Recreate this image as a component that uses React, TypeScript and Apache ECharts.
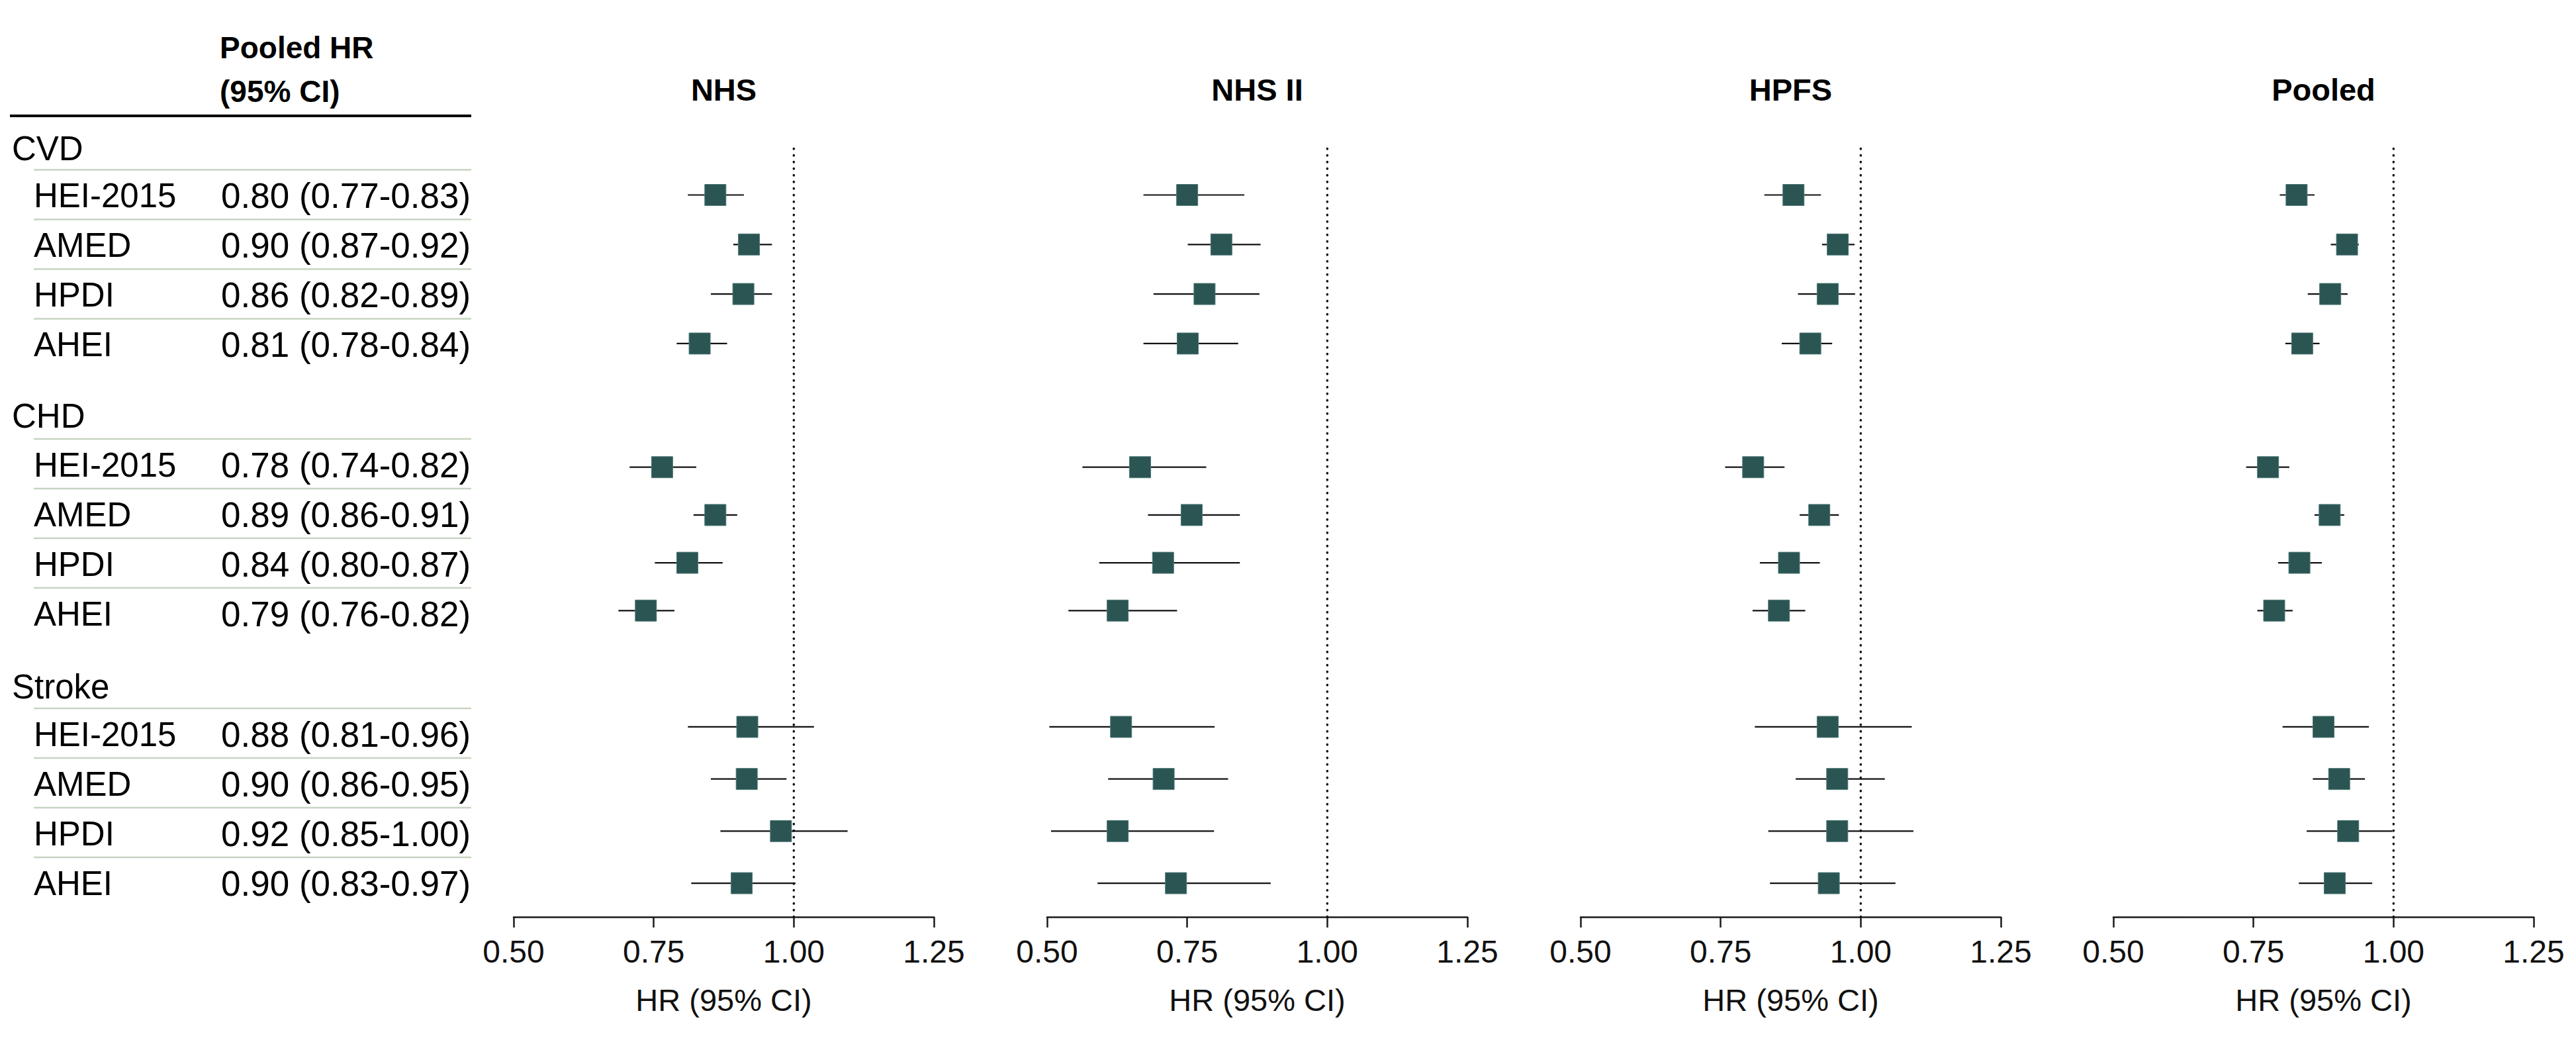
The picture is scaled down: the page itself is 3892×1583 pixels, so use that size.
import React, { useEffect, useRef } from 'react';
import * as echarts from 'echarts';

// ---------- data ----------
const cohorts = ['NHS', 'NHS II', 'HPFS', 'Pooled'];
const outcomes = ['CVD', 'CHD', 'Stroke'];
const indices = ['HEI-2015', 'AMED', 'HPDI', 'AHEI'];
const xTicks = [0.5, 0.75, 1.0, 1.25];
const nullHR = 1.0;

// Order: CVD (HEI-2015, AMED, HPDI, AHEI), CHD (...), Stroke (...)
const nhsHR = [0.86, 0.92, 0.91, 0.832, 0.765, 0.86, 0.81, 0.736, 0.917, 0.916, 0.977, 0.907];
const nhsLow = [0.811, 0.892, 0.852, 0.791, 0.707, 0.821, 0.752, 0.687, 0.811, 0.852, 0.869, 0.817];
const nhsHigh = [0.911, 0.961, 0.961, 0.881, 0.826, 0.899, 0.873, 0.787, 1.036, 0.987, 1.096, 1.003];

const nhs2HR = [0.75, 0.811, 0.781, 0.751, 0.666, 0.758, 0.707, 0.626, 0.632, 0.708, 0.626, 0.73];
const nhs2Low = [0.672, 0.751, 0.69, 0.672, 0.563, 0.68, 0.593, 0.538, 0.504, 0.609, 0.507, 0.59];
const nhs2High = [0.852, 0.881, 0.879, 0.841, 0.784, 0.844, 0.844, 0.732, 0.799, 0.823, 0.798, 0.899];

const hpfsHR = [0.88, 0.959, 0.941, 0.91, 0.808, 0.926, 0.872, 0.854, 0.941, 0.958, 0.958, 0.943];
const hpfsLow = [0.828, 0.931, 0.888, 0.859, 0.758, 0.891, 0.82, 0.807, 0.811, 0.884, 0.835, 0.838];
const hpfsHigh = [0.929, 0.989, 0.99, 0.949, 0.864, 0.961, 0.927, 0.901, 1.091, 1.043, 1.094, 1.062];

const pooledHR = [0.827, 0.917, 0.887, 0.837, 0.776, 0.886, 0.832, 0.787, 0.875, 0.903, 0.919, 0.895];
const pooledLow = [0.797, 0.888, 0.847, 0.807, 0.737, 0.859, 0.794, 0.757, 0.802, 0.856, 0.845, 0.831];
const pooledHigh = [0.859, 0.938, 0.918, 0.868, 0.814, 0.912, 0.872, 0.82, 0.956, 0.949, 0.998, 0.962];

// Pooled HR column of the table
const tableHR = [0.8, 0.9, 0.86, 0.81, 0.78, 0.89, 0.84, 0.79, 0.88, 0.9, 0.92, 0.9];
const tableLow = [0.77, 0.87, 0.82, 0.78, 0.74, 0.86, 0.8, 0.76, 0.81, 0.86, 0.85, 0.83];
const tableHigh = [0.83, 0.92, 0.89, 0.84, 0.82, 0.91, 0.87, 0.82, 0.96, 0.95, 1.0, 0.97];

const cohortEst = [nhsHR, nhs2HR, hpfsHR, pooledHR];
const cohortLow = [nhsLow, nhs2Low, hpfsLow, pooledLow];
const cohortHigh = [nhsHigh, nhs2High, hpfsHigh, pooledHigh];

// ---------- layout ----------
const FONT = "'Liberation Sans', Arial, Helvetica, sans-serif";
const panelLeft = [776, 1582, 2388, 3193];
const panelWidth = 635;
const plotTop = 219;
const axisY = 1385;
const groupTop = [257.1, 669.6, 1058.6];
const groupSpacing = [74.8, 72.2, 78.7];
const headerY = [224, 628, 1037];
const sepTop = [256.4, 662.9, 1070];
const tableSpacing = 75;
const boxColor = '#2a5553';

const fmt = (v: number) => v.toFixed(2);

function buildOption() {
  const grid: any[] = [];
  const xAxis: any[] = [];
  const yAxis: any[] = [];
  const series: any[] = [];
  const graphic: any[] = [];

  cohorts.forEach((name, p) => {
    // main grid: axis + reference line
    const mainIdx = grid.length;
    grid.push({ left: panelLeft[p], width: panelWidth, top: plotTop, height: axisY - plotTop });
    xAxis.push({
      gridIndex: mainIdx,
      type: 'value',
      min: xTicks[0],
      max: xTicks[xTicks.length - 1],
      interval: xTicks[1] - xTicks[0],
      axisLine: { show: true, lineStyle: { color: '#1a1a1a', width: 2.5 } },
      axisTick: { show: true, length: 16, lineStyle: { color: '#1a1a1a', width: 2.5 } },
      axisLabel: { margin: 28, fontSize: 48, fontFamily: FONT, color: '#111', formatter: (v: number) => fmt(v) },
      splitLine: { show: false },
      name: 'HR (95% CI)',
      nameLocation: 'middle',
      nameGap: 102,
      nameTextStyle: { fontSize: 47, fontFamily: FONT, color: '#111' },
    });
    yAxis.push({ gridIndex: mainIdx, type: 'value', min: 0, max: 1, show: false });
    series.push({
      type: 'line',
      xAxisIndex: mainIdx,
      yAxisIndex: mainIdx,
      data: [
        [nullHR, 0],
        [nullHR, 1],
      ],
      symbol: 'none',
      silent: true,
      z: 1,
      lineStyle: { color: '#111', width: 3.5, type: [0.5, 9.5], cap: 'round' },
    });

    // one grid per outcome group
    outcomes.forEach((_, g) => {
      const gi = grid.length;
      grid.push({ left: panelLeft[p], width: panelWidth, top: groupTop[g], height: groupSpacing[g] * indices.length });
      xAxis.push({ gridIndex: gi, type: 'value', min: xTicks[0], max: xTicks[xTicks.length - 1], show: false });
      yAxis.push({ gridIndex: gi, type: 'category', data: indices, inverse: true, show: false, boundaryGap: true });
      const data = indices.map((_, i) => {
        const k = g * indices.length + i;
        return [i, cohortEst[p][k], cohortLow[p][k], cohortHigh[p][k]];
      });
      series.push({
        type: 'custom',
        xAxisIndex: gi,
        yAxisIndex: gi,
        z: 5,
        clip: false,
        encode: { x: [1, 2, 3], y: 0 },
        data,
        renderItem: (params: any, api: any) => {
          const yv = api.value(0);
          const c = api.coord([api.value(1), yv]);
          const l = api.coord([api.value(2), yv]);
          const h = api.coord([api.value(3), yv]);
          const s = 32;
          return {
            type: 'group',
            children: [
              {
                type: 'line',
                shape: { x1: l[0], y1: l[1], x2: h[0], y2: h[1] },
                style: { stroke: '#111', lineWidth: 2.2 },
              },
              {
                type: 'rect',
                shape: { x: c[0] - s / 2, y: c[1] - s / 2, width: s, height: s },
                style: { fill: boxColor, stroke: '#4d7775', lineWidth: 1 },
              },
            ],
          };
        },
      });
    });

    // panel title
    graphic.push({
      type: 'text',
      x: panelLeft[p] + panelWidth / 2,
      y: 135,
      style: {
        text: name,
        fontSize: 47,
        fontWeight: 'bold',
        fontFamily: FONT,
        fill: '#000',
        align: 'center',
        textAlign: 'center',
        verticalAlign: 'middle',
        textVerticalAlign: 'middle',
      },
    });
  });

  const txt = (text: string, x: number, y: number, size: number, bold = false) => ({
    type: 'text',
    x,
    y,
    style: {
      text,
      fontSize: size,
      fontWeight: bold ? 'bold' : 'normal',
      fontFamily: FONT,
      fill: '#000',
      align: 'left',
      textAlign: 'left',
      verticalAlign: 'middle',
      textVerticalAlign: 'middle',
    },
  });

  // table header
  graphic.push(txt('Pooled HR', 332, 72, 46, true));
  graphic.push(txt('(95% CI)', 332, 138, 46, true));
  graphic.push({
    type: 'line',
    shape: { x1: 15, y1: 175, x2: 712, y2: 175 },
    style: { stroke: '#000', lineWidth: 4 },
  });

  outcomes.forEach((o, g) => {
    graphic.push(txt(o, 18, headerY[g], 51));
    indices.forEach((idx, i) => {
      const k = g * indices.length + i;
      const ySep = sepTop[g] + tableSpacing * i;
      graphic.push({
        type: 'line',
        shape: { x1: 51, y1: ySep, x2: 712, y2: ySep },
        style: { stroke: '#c6d4c2', lineWidth: 2.5 },
      });
      graphic.push(txt(idx, 51, ySep + 39.5, 51));
      graphic.push(txt(`${fmt(tableHR[k])} (${fmt(tableLow[k])}-${fmt(tableHigh[k])})`, 334, ySep + 39.5, 53));
    });
  });

  return {
    animation: false,
    backgroundColor: '#ffffff',
    textStyle: { fontFamily: FONT },
    grid,
    xAxis,
    yAxis,
    series,
    graphic,
  };
}

export default function App() {
  const ref = useRef<HTMLDivElement>(null);
  useEffect(() => {
    if (!ref.current) return;
    const chart = echarts.init(ref.current, undefined, { renderer: 'svg' });
    chart.setOption(buildOption());
    return () => chart.dispose();
  }, []);
  return (
    <div
      ref={ref}
      style={{ position: 'absolute', left: 0, top: 0, width: 3892, height: 1583, background: '#fff' }}
    />
  );
}
